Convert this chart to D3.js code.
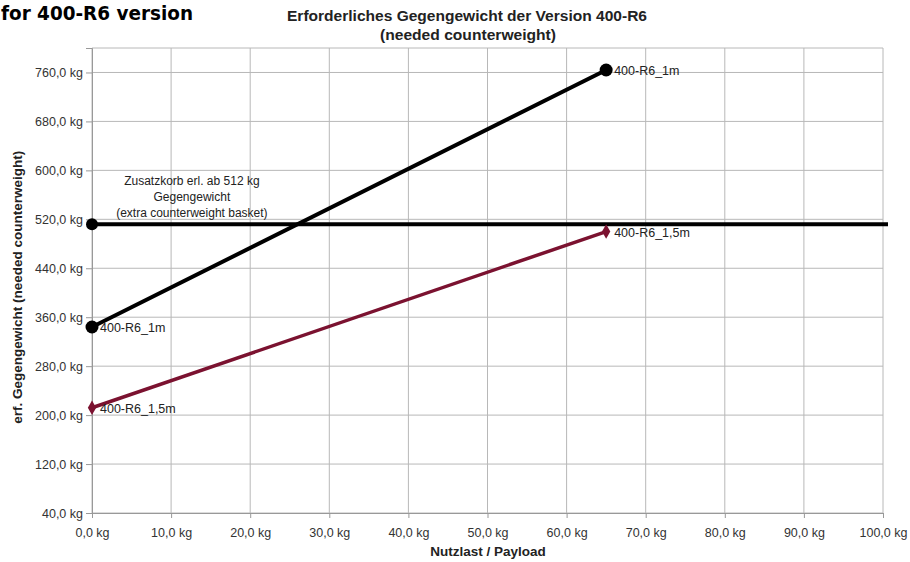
<!DOCTYPE html>
<html>
<head>
<meta charset="utf-8">
<script src="https://cdn.jsdelivr.net/npm/d3@7"></script>
<style>
body { margin: 0; background: #fff; }
svg { font-family: "Liberation Sans", Arial, sans-serif; }
</style>
</head>
<body>
<svg id="chart"></svg>
<script>
// data
var payload = [0, 65]
var cw1m = [344, 764]
var cw15m = [212, 500]
var basketLimit = 512
var xTicks = [0, 10, 20, 30, 40, 50, 60, 70, 80, 90, 100]
var yTicks = [40, 120, 200, 280, 360, 440, 520, 600, 680, 760]
var seriesNames = ["400-R6_1m", "400-R6_1,5m"]
var noteLines = ["Zusatzkorb erl. ab 512 kg", "Gegengewicht", "(extra counterweight basket)"]

var width = 910
var height = 562

var de = d3.formatLocale({ decimal: ",", thousands: ".", grouping: [3], currency: ["", " €"] })
var fmt = de.format(".1f")

var xScale = d3.scaleLinear().domain([0, 100]).range([92, 883])
var yScale = d3.scaleLinear().domain([40, 800]).range([513, 48])

var svg = d3.select("#chart").attr("width", width).attr("height", height)

// grid
svg.append("g")
	.selectAll("line")
	.data(xTicks)
	.enter()
	.append("line")
	.attr("x1", d => xScale(d))
	.attr("x2", d => xScale(d))
	.attr("y1", yScale(800))
	.attr("y2", yScale(40))
	.attr("stroke", "#b8b8b8")
	.attr("stroke-width", 1)

svg.append("g")
	.selectAll("line")
	.data(yTicks.concat([800]))
	.enter()
	.append("line")
	.attr("x1", xScale(0))
	.attr("x2", xScale(100))
	.attr("y1", d => yScale(d))
	.attr("y2", d => yScale(d))
	.attr("stroke", "#b8b8b8")
	.attr("stroke-width", 1)

// axes
var yAxis = d3.axisLeft(yScale).tickValues(yTicks).tickSize(6).tickPadding(3)
	.tickFormat(d => fmt(d) + " kg")
var gy = svg.append("g").attr("transform", "translate(" + xScale(0) + ",0)").call(yAxis)
gy.select(".domain").attr("stroke", "#999")
gy.selectAll(".tick line").attr("stroke", "#999")
gy.selectAll("text").attr("font-size", 12.5).attr("fill", "#333")
	.attr("font-family", "Liberation Sans, Arial, sans-serif")

var xAxis = d3.axisBottom(xScale).tickValues(xTicks).tickSize(5).tickPadding(10)
	.tickFormat(d => fmt(d) + " kg")
var gx = svg.append("g").attr("transform", "translate(0," + yScale(40) + ")").call(xAxis)
gx.select(".domain").attr("stroke", "#999")
gx.selectAll(".tick line").attr("stroke", "#999")
gx.selectAll("text").attr("font-size", 12.5).attr("fill", "#333")
	.attr("font-family", "Liberation Sans, Arial, sans-serif")

// horizontal limit line
svg.append("line")
	.attr("x1", xScale(0))
	.attr("x2", xScale(100) + 5)
	.attr("y1", yScale(basketLimit))
	.attr("y2", yScale(basketLimit))
	.attr("stroke", "#000")
	.attr("stroke-width", 4)
svg.append("circle")
	.attr("cx", xScale(0))
	.attr("cy", yScale(basketLimit))
	.attr("r", 6)
	.attr("fill", "#000")

var noteX = (xScale(0) + xScale(25)) / 2 + 1
svg.append("g")
	.selectAll("text")
	.data(noteLines)
	.enter()
	.append("text")
	.attr("x", noteX)
	.attr("y", (d, i) => yScale(basketLimit) - 39 + i * 16)
	.attr("text-anchor", "middle")
	.attr("font-size", 12)
	.attr("fill", "#222")
	.text(d => d)

// series
var line = d3.line().x(d => xScale(d[0])).y(d => yScale(d[1]))
var s1 = payload.map((p, i) => [p, cw1m[i]])
var s2 = payload.map((p, i) => [p, cw15m[i]])

svg.append("path")
	.attr("d", line(s2))
	.attr("fill", "none")
	.attr("stroke", "#7b1230")
	.attr("stroke-width", 3.5)

svg.append("path")
	.attr("d", line(s1))
	.attr("fill", "none")
	.attr("stroke", "#000")
	.attr("stroke-width", 4)

svg.append("g")
	.selectAll("circle")
	.data(s1)
	.enter()
	.append("circle")
	.attr("cx", d => xScale(d[0]))
	.attr("cy", d => yScale(d[1]))
	.attr("r", 6.5)
	.attr("fill", "#000")

svg.append("g")
	.selectAll("path")
	.data(s2)
	.enter()
	.append("path")
	.attr("d", d3.symbol().type(d3.symbolDiamond).size(60))
	.attr("transform", d => "translate(" + xScale(d[0]) + "," + yScale(d[1]) + ")")
	.attr("fill", "#7b1230")

// point labels
var labels = s1.map(d => ({ p: d, t: seriesNames[0] })).concat(s2.map(d => ({ p: d, t: seriesNames[1] })))
svg.append("g")
	.selectAll("text")
	.data(labels)
	.enter()
	.append("text")
	.attr("x", d => xScale(d.p[0]) + 8)
	.attr("y", d => yScale(d.p[1]) + 5)
	.attr("font-size", 12.5)
	.attr("fill", "#222")
	.text(d => d.t)

// titles
svg.append("text")
	.attr("x", 467)
	.attr("y", 21)
	.attr("text-anchor", "middle")
	.attr("font-size", 14)
	.attr("font-weight", "bold")
	.attr("fill", "#222")
	.attr("textLength", 360)
	.attr("lengthAdjust", "spacingAndGlyphs")
	.text("Erforderliches Gegengewicht der Version 400-R6")
svg.append("text")
	.attr("x", 468)
	.attr("y", 40)
	.attr("text-anchor", "middle")
	.attr("font-size", 14)
	.attr("font-weight", "bold")
	.attr("fill", "#222")
	.attr("textLength", 176)
	.attr("lengthAdjust", "spacingAndGlyphs")
	.text("(needed counterweight)")

svg.append("text")
	.attr("x", 1)
	.attr("y", 20)
	.attr("font-size", 20)
	.attr("font-weight", "bold")
	.attr("font-family", "DejaVu Sans Condensed, DejaVu Sans, sans-serif")
	.attr("textLength", 192)
	.attr("lengthAdjust", "spacingAndGlyphs")
	.attr("fill", "#000")
	.text("for 400-R6 version")

svg.append("text")
	.attr("transform", "translate(22," + (yScale(409)) + ") rotate(-90)")
	.attr("text-anchor", "middle")
	.attr("font-size", 13.5)
	.attr("font-weight", "bold")
	.attr("fill", "#222")
	.text("erf. Gegengewicht (needed counterweight)")

svg.append("text")
	.attr("x", 488)
	.attr("y", 556)
	.attr("text-anchor", "middle")
	.attr("font-size", 13.5)
	.attr("font-weight", "bold")
	.attr("fill", "#222")
	.text("Nutzlast / Payload")
</script>
</body>
</html>
